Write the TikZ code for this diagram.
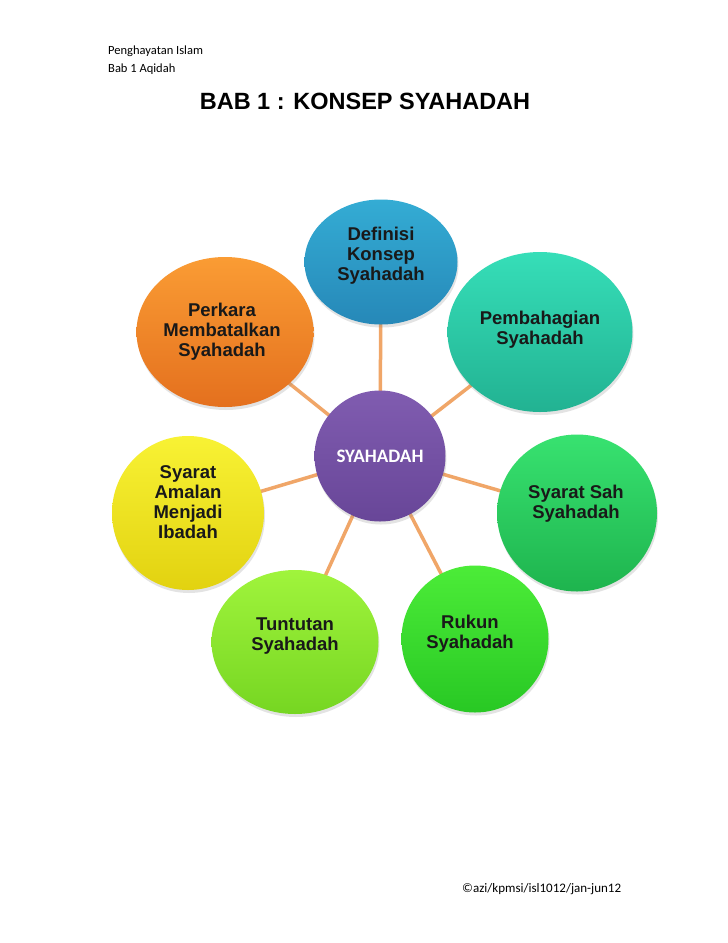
\documentclass[tikz,border=0pt]{standalone}
\usepackage{fontspec}
\setmainfont{Carlito}
\setsansfont{Liberation Sans}
\usepackage{tikz}
\usetikzlibrary{shapes.geometric,shadows,backgrounds}
\usepackage{xcolor}
\definecolor{lnkc}{RGB}{240,166,104}
\definecolor{defA}{RGB}{52,172,212}\definecolor{defB}{RGB}{38,136,184}
\definecolor{pemA}{RGB}{54,222,184}\definecolor{pemB}{RGB}{34,178,146}
\definecolor{sahA}{RGB}{56,226,112}\definecolor{sahB}{RGB}{30,180,78}
\definecolor{rukA}{RGB}{76,236,56}\definecolor{rukB}{RGB}{40,200,36}
\definecolor{tunA}{RGB}{160,244,60}\definecolor{tunB}{RGB}{118,214,34}
\definecolor{amaA}{RGB}{248,242,52}\definecolor{amaB}{RGB}{226,210,16}
\definecolor{perA}{RGB}{250,156,52}\definecolor{perB}{RGB}{228,112,30}
\definecolor{hubA}{RGB}{128,92,176}\definecolor{hubB}{RGB}{104,70,152}

\begin{document}
\begin{tikzpicture}[x=1pt,y=-1pt,
  bub/.style={ellipse,inner sep=0pt,align=center,text=black!90,
    drop shadow={opacity=0.22,shadow xshift=1pt,shadow yshift=-3pt}},
  txt/.style={align=center,text=black!90,font=\sffamily\bfseries\fontsize{18.5}{20}\selectfont},
  lnk/.style={draw=lnkc,line width=3.5pt}]
\useasboundingbox (0,0) rectangle (728,943);
% header and title
\node[anchor=west,inner sep=0pt,font=\fontsize{12.5}{14}\selectfont] (hd1) at (108,51) {Penghayatan Islam};
\node[anchor=west,inner sep=0pt,font=\fontsize{12.5}{14}\selectfont] (hd2) at (108,69) {Bab 1 Aqidah};
\node[font=\sffamily\bfseries\fontsize{23.5}{26}\selectfont] (ttl) at (365,101) {BAB 1 : KONSEP SYAHADAH};
% hub
\node[bub,circle,minimum size=131pt,top color=hubA,bottom color=hubB,text=white,
  font=\bfseries\fontsize{19}{21}\selectfont] (hub) at (380,456) {SYAHADAH};
% bubbles round the hub
\node[bub,minimum width=153pt,minimum height=125pt,top color=defA,bottom color=defB,
  label={[txt,yshift=6pt]center:Definisi\\Konsep\\Syahadah}] (def) at (381,262) {};
\node[bub,minimum width=185pt,minimum height=160pt,top color=pemA,bottom color=pemB,
  label={[txt,yshift=2pt]center:Pembahagian\\Syahadah}] (pem) at (540,332) {};
\node[bub,minimum width=160pt,minimum height=157pt,top color=sahA,bottom color=sahB,
  label={[txt,xshift=-1pt,yshift=9pt]center:Syarat Sah\\Syahadah}] (sah) at (577,513) {};
\node[bub,minimum width=147pt,minimum height=147pt,top color=rukA,bottom color=rukB,
  label={[txt,xshift=-5pt,yshift=5pt]center:Rukun\\Syahadah}] (ruk) at (475,639) {};
\node[bub,minimum width=167pt,minimum height=144pt,top color=tunA,bottom color=tunB,
  label={[txt,yshift=6pt]center:Tuntutan\\Syahadah}] (tun) at (295,642) {};
\node[bub,minimum width=152pt,minimum height=154pt,top color=amaA,bottom color=amaB,
  label={[txt,yshift=11pt]center:Syarat\\Amalan\\Menjadi\\Ibadah}] (ama) at (188,513) {};
\node[bub,minimum width=177pt,minimum height=150pt,top color=perA,bottom color=perB,
  label={[txt,xshift=-3pt]center:Perkara\\Membatalkan\\Syahadah}] (per) at (225,332) {};
% links behind
\begin{scope}[on background layer]
\fill[white] (0,0) rectangle (728,943);
\draw[lnk] (hub.center)--(def.center); \draw[lnk] (hub.center)--(pem.center);
\draw[lnk] (hub.center)--(sah.center); \draw[lnk] (hub.center)--(ruk.center);
\draw[lnk] (hub.center)--(tun.center); \draw[lnk] (hub.center)--(ama.center);
\draw[lnk] (hub.center)--(per.center);
\end{scope}
% footer
\node[anchor=west,inner sep=0pt,font=\fontsize{13}{15}\selectfont] (ftr) at (462,889) {\textcopyright azi/kpmsi/isl1012/jan-jun12};
\end{tikzpicture}
\end{document}
